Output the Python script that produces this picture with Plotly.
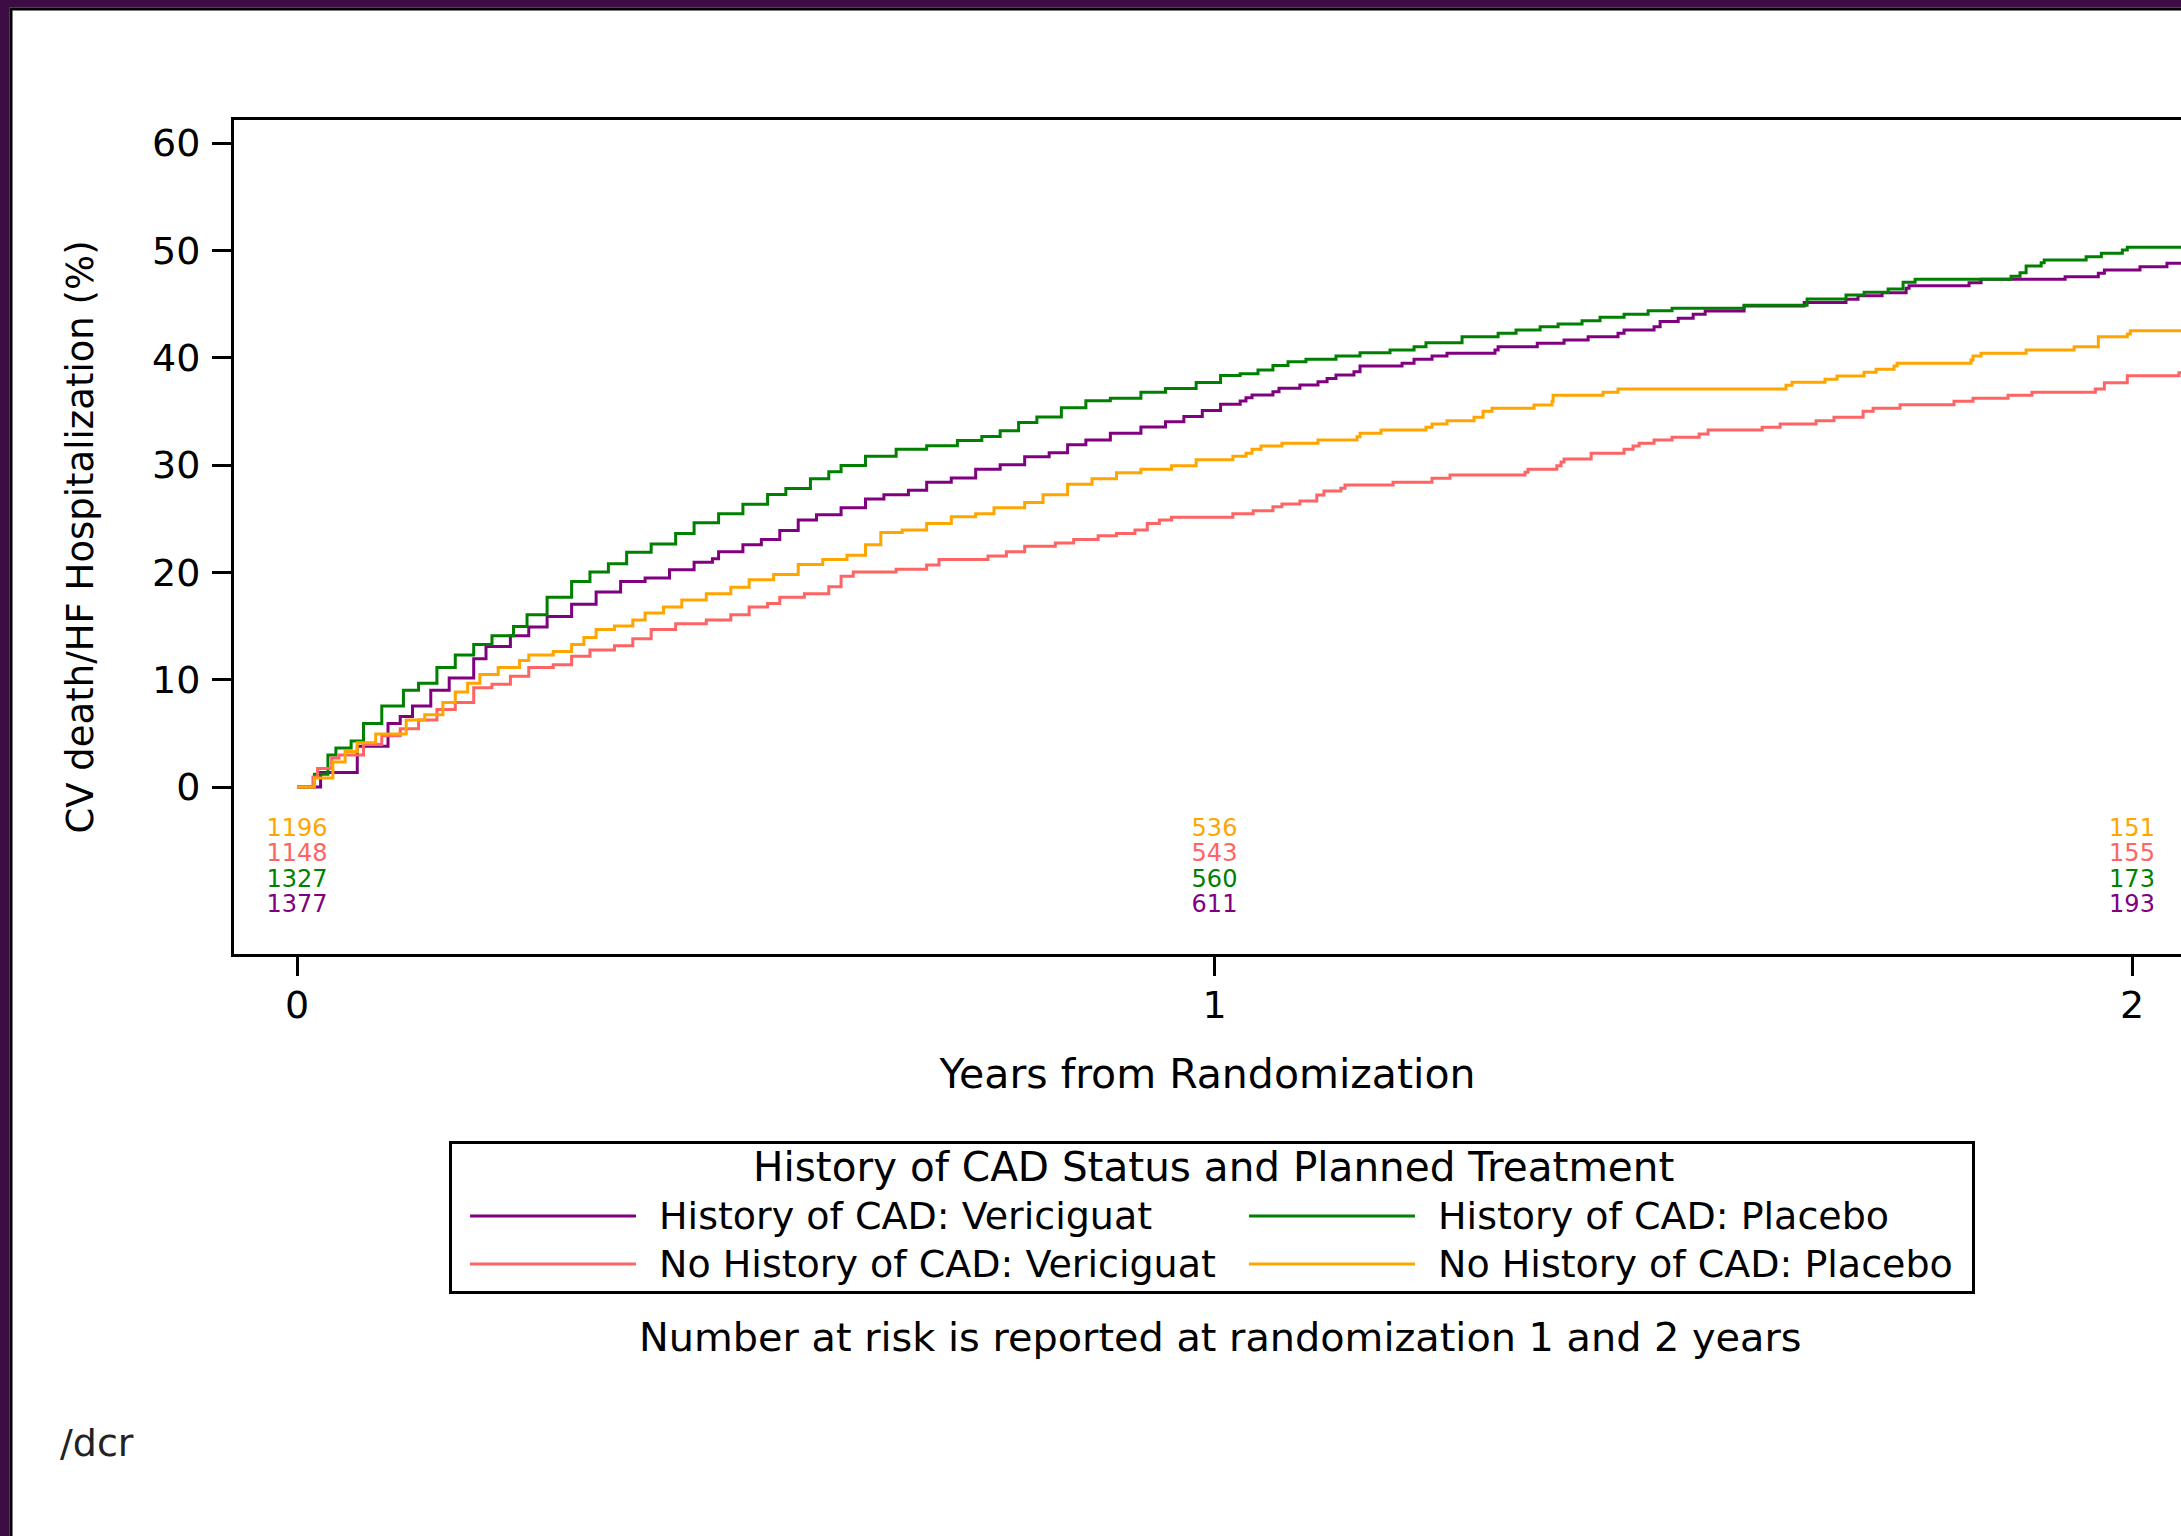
import plotly.graph_objects as go

# ---------------- data ----------------
years_cad_verici = [0, 0.0257, 0.0657, 0.0992, 0.1125, 0.1259, 0.1458, 0.1659, 0.1926, 0.206, 0.2326, 0.2526,
                    0.2726, 0.2993, 0.326, 0.3527, 0.3794, 0.406, 0.4328, 0.4528, 0.4595, 0.486, 0.5061, 0.5262,
                    0.5463, 0.5662, 0.593, 0.6196, 0.6397, 0.6664, 0.6863, 0.7131, 0.7397, 0.7664, 0.7931, 0.8198,
                    0.8399, 0.8598, 0.8865, 0.9198, 0.9466, 0.9666, 0.9867, 1.0066, 1.028, 1.0343, 1.0409, 1.0637,
                    1.0703, 1.0931, 1.1128, 1.1227, 1.1324, 1.152, 1.1586, 1.2044, 1.2175, 1.2371, 1.2534, 1.3057,
                    1.3091, 1.3518, 1.381, 1.4072, 1.4398, 1.4464, 1.4791, 1.4857, 1.5054, 1.5217, 1.5348, 1.5772,
                    1.6427, 1.6883, 1.7014, 1.7276, 1.7538, 1.757, 1.8224, 1.8355, 1.9271, 1.9633, 1.9699, 2.0087,
                    2.0381, 2.07]
pct_cad_verici = [0, 1.34, 3.79, 5.92, 6.57, 7.55, 9.02, 10.16, 11.96, 13.1, 14.09, 14.91,
                  15.89, 17.02, 18.17, 19.15, 19.47, 20.23, 20.94, 21.27, 21.93, 22.58, 23.07, 23.89,
                  24.87, 25.36, 26.01, 26.83, 27.22, 27.64, 28.4, 28.79, 29.61, 30.03, 30.76, 31.15,
                  31.89, 32.32, 32.97, 33.53, 34.02, 34.51, 35.07, 35.66, 35.96, 36.27, 36.52, 36.83,
                  37.15, 37.45, 37.76, 38.07, 38.39, 38.69, 39.23, 39.47, 39.85, 40.16, 40.41, 40.72,
                  41.03, 41.34, 41.65, 41.96, 42.27, 42.58, 42.89, 43.36, 43.67, 44.04, 44.35, 44.82,
                  45.13, 45.44, 45.78, 46.06, 46.46, 46.71, 46.99, 47.3, 47.55, 47.86, 48.17, 48.48,
                  48.79, 48.79]

years_cad_placebo = [0, 0.019, 0.0337, 0.0424, 0.059, 0.0725, 0.0924, 0.116, 0.1325, 0.1525, 0.1725, 0.1926,
                     0.2125, 0.236, 0.2507, 0.2726, 0.2993, 0.3193, 0.3394, 0.3593, 0.386, 0.4127, 0.4328,
                     0.4595, 0.486, 0.5129, 0.5328, 0.5596, 0.5796, 0.593, 0.6196, 0.653, 0.6863, 0.7198,
                     0.7464, 0.7664, 0.7865, 0.8064, 0.8331, 0.8598, 0.8865, 0.9198, 0.9466, 0.98, 1.0066,
                     1.028, 1.0474, 1.0637, 1.0801, 1.0997, 1.1324, 1.1586, 1.1913, 1.2175, 1.2305, 1.2698,
                     1.3091, 1.3287, 1.3549, 1.3745, 1.4006, 1.4202, 1.4464, 1.4726, 1.4987, 1.5772, 1.6459,
                     1.6883, 1.708, 1.7342, 1.7505, 1.7636, 1.8682, 1.878, 1.8846, 1.901, 1.9043, 1.95, 1.9666,
                     1.9895, 1.9949, 2.07]
pct_cad_placebo = [0, 1.18, 2.97, 3.63, 4.28, 5.92, 7.55, 9.02, 9.67, 11.14, 12.29, 13.27,
                   14.09, 14.96, 16.04, 17.68, 19.15, 20.03, 20.79, 21.87, 22.65, 23.63, 24.61,
                   25.45, 26.34, 27.25, 27.81, 28.72, 29.38, 29.96, 30.82, 31.47, 31.8, 32.28,
                   32.65, 33.2, 33.95, 34.47, 35.33, 35.98, 36.21, 36.79, 37.13, 37.68, 38.33,
                   38.5, 38.85, 39.26, 39.63, 39.85, 40.16, 40.47, 40.72, 41.03, 41.4, 41.96,
                   42.27, 42.58, 42.89, 43.14, 43.45, 43.76, 44.04, 44.38, 44.6, 44.88, 45.47,
                   45.84, 46.09, 46.4, 47.02, 47.3, 47.58, 47.92, 48.54, 48.85, 49.1, 49.41, 49.72,
                   50.03, 50.28, 50.28]

years_nocad_verici = [0, 0.0174, 0.0224, 0.0378, 0.0458, 0.0725, 0.0924, 0.1125, 0.1325, 0.1525, 0.1725,
                      0.1926, 0.2125, 0.2326, 0.2526, 0.2793, 0.2993, 0.3193, 0.346, 0.366, 0.386, 0.4127,
                      0.4461, 0.4728, 0.4928, 0.5129, 0.5262, 0.553, 0.5796, 0.593, 0.6063, 0.653, 0.6863,
                      0.6997, 0.7531, 0.7732, 0.7931, 0.8265, 0.8465, 0.8732, 0.8932, 0.9133, 0.9267, 0.9399,
                      0.9532, 1.02, 1.0422, 1.0637, 1.0735, 1.0931, 1.1115, 1.1193, 1.1377, 1.1422, 1.1946,
                      1.2371, 1.2567, 1.3384, 1.3417, 1.3731, 1.3777, 1.381, 1.4105, 1.4464, 1.4562, 1.4628,
                      1.4791, 1.4987, 1.5282, 1.538, 1.5969, 1.6165, 1.6557, 1.6752, 1.7069, 1.7178, 1.7472,
                      1.806, 1.8267, 1.8649, 1.891, 1.96, 1.9699, 1.9949, 2.0512, 2.07]
pct_nocad_verici = [0, 0.93, 1.73, 2.7, 2.97, 3.95, 4.77, 5.42, 6.24, 7.22, 7.87,
                    9.25, 9.58, 10.32, 11.14, 11.4, 12.19, 12.77, 13.17, 13.82, 14.67, 15.22,
                    15.56, 16.04, 16.76, 17.09, 17.68, 18.01, 18.66, 19.64, 20.03, 20.29, 20.68,
                    21.2, 21.53, 21.93, 22.42, 22.74, 23.07, 23.4, 23.63, 23.95, 24.54, 24.87,
                    25.13, 25.45, 25.74, 26.12, 26.37, 26.65, 27.21, 27.58, 27.83, 28.14, 28.39,
                    28.76, 29.07, 29.32, 29.6, 29.94, 30.28, 30.56, 31.09, 31.46, 31.77, 32.02,
                    32.33, 32.58, 32.89, 33.26, 33.51, 33.82, 34.13, 34.44, 35.0, 35.28, 35.62,
                    35.93, 36.21, 36.49, 36.77, 37.08, 37.67, 38.32, 38.6, 38.6]

years_nocad_placebo = [0, 0.019, 0.0391, 0.0524, 0.0657, 0.0858, 0.119, 0.1392, 0.159, 0.1725, 0.186,
                       0.1993, 0.2193, 0.2426, 0.2526, 0.2793, 0.2993, 0.3127, 0.326, 0.346, 0.366, 0.3794,
                       0.3995, 0.4194, 0.4461, 0.4728, 0.4928, 0.5195, 0.5463, 0.573, 0.5995, 0.6196, 0.6363,
                       0.6596, 0.6863, 0.7131, 0.7397, 0.7597, 0.7931, 0.8131, 0.8399, 0.8665, 0.8932, 0.9198,
                       0.9532, 0.98, 1.02, 1.0343, 1.0409, 1.0507, 1.0735, 1.1128, 1.1553, 1.1586, 1.1815,
                       1.2305, 1.2371, 1.2534, 1.2829, 1.2927, 1.3025, 1.3482, 1.3679, 1.369, 1.4235, 1.4398,
                       1.6229, 1.6295, 1.6654, 1.6785, 1.708, 1.7211, 1.7407, 1.744, 1.8245, 1.8267, 1.8355,
                       1.8846, 1.9369, 1.9633, 1.9949, 1.9982, 2.07]
pct_nocad_placebo = [0, 0.85, 2.32, 3.3, 4.12, 4.94, 6.24, 6.74, 7.87, 8.86, 9.67,
                     10.49, 11.14, 11.79, 12.29, 12.62, 13.27, 13.92, 14.67, 15.0, 15.56, 16.21,
                     16.76, 17.42, 18.01, 18.6, 19.31, 19.81, 20.72, 21.2, 21.6, 22.58, 23.72,
                     23.95, 24.54, 25.19, 25.45, 26.01, 26.51, 27.22, 28.2, 28.72, 29.28, 29.61,
                     29.94, 30.49, 30.82, 31.09, 31.46, 31.77, 32.02, 32.33, 32.64, 32.95, 33.26,
                     33.51, 33.82, 34.13, 34.44, 35.0, 35.28, 35.59, 35.93, 36.49, 36.77, 37.08,
                     37.43, 37.71, 37.99, 38.3, 38.64, 38.92, 39.23, 39.48, 39.78, 40.16, 40.41,
                     40.72, 41.03, 41.96, 42.21, 42.51, 42.51]

risk_years = [0, 1, 2]
risk_nocad_placebo = [1196, 536, 151]
risk_nocad_verici = [1148, 543, 155]
risk_cad_placebo = [1327, 560, 173]
risk_cad_verici = [1377, 611, 193]

x_tick_vals = [0, 1, 2]
y_tick_vals = [0, 10, 20, 30, 40, 50, 60]

series_names = ["History of CAD: Vericiguat", "History of CAD: Placebo",
                "No History of CAD: Vericiguat", "No History of CAD: Placebo"]
legend_title = "History of CAD Status and Planned Treatment"
x_title = "Years from Randomization"
y_title = "CV death/HF Hospitalization (%)"
footnote = "Number at risk is reported at randomization 1 and 2 years"
corner_text = "/dcr"

# ---------------- styles / layout geometry ----------------
C_PURPLE = "#800080"
C_GREEN = "#008000"
C_SALMON = "#FF6464"
C_ORANGE = "#FFA500"
C_FRAME = "#3D0C45"
FONT = "DejaVu Sans"

W, H = 2181, 1536
L, T, BOT = 234, 120, 954
X0PX, PX_PER_YEAR = 297, 917.5
Y0PX, PX_PER_PCT = 787, 10.733

x_range = [(L - X0PX) / PX_PER_YEAR, (W - X0PX) / PX_PER_YEAR]
y_range = [(Y0PX - BOT) / PX_PER_PCT, (Y0PX - T) / PX_PER_PCT]


def px_x(p):
    return (p - L) / (W - L)


def px_y(p):
    return (BOT - p) / (BOT - T)


def pct_at_px(p):
    return (Y0PX - p) / PX_PER_PCT


fig = go.Figure()

curves = [
    (years_cad_verici, pct_cad_verici, C_PURPLE, series_names[0]),
    (years_cad_placebo, pct_cad_placebo, C_GREEN, series_names[1]),
    (years_nocad_verici, pct_nocad_verici, C_SALMON, series_names[2]),
    (years_nocad_placebo, pct_nocad_placebo, C_ORANGE, series_names[3]),
]
for xs, ys, col, nm in curves:
    fig.add_trace(go.Scatter(x=xs, y=ys, mode="lines", name=nm,
                             line=dict(color=col, width=3, shape="hv"),
                             showlegend=False, hoverinfo="skip"))

risk_rows = [
    (risk_nocad_placebo, C_ORANGE, 829.5),
    (risk_nocad_verici, C_SALMON, 855),
    (risk_cad_placebo, C_GREEN, 881),
    (risk_cad_verici, C_PURPLE, 906),
]
for vals, col, rowpx in risk_rows:
    fig.add_trace(go.Scatter(x=risk_years, y=[pct_at_px(rowpx)] * len(risk_years),
                             mode="text", text=[str(v) for v in vals],
                             textposition="middle center",
                             textfont=dict(family=FONT, size=24, color=col),
                             showlegend=False, hoverinfo="skip", cliponaxis=False))

shapes = []
# outer slide frame (purple band + black rule on top and left)
shapes.append(dict(type="rect", xref="paper", yref="paper", x0=px_x(0), x1=px_x(9.5),
                   y0=px_y(H), y1=px_y(0), fillcolor=C_FRAME, line=dict(width=0), layer="above"))
shapes.append(dict(type="rect", xref="paper", yref="paper", x0=px_x(0), x1=px_x(W),
                   y0=px_y(7.5), y1=px_y(0), fillcolor=C_FRAME, line=dict(width=0), layer="above"))
shapes.append(dict(type="line", xref="paper", yref="paper", x0=px_x(11), x1=px_x(11),
                   y0=px_y(9), y1=px_y(H), line=dict(color="black", width=3), layer="above"))
shapes.append(dict(type="line", xref="paper", yref="paper", x0=px_x(9.5), x1=px_x(W),
                   y0=px_y(9), y1=px_y(9), line=dict(color="black", width=3), layer="above"))

# legend box
shapes.append(dict(type="rect", xref="paper", yref="paper", x0=px_x(450.5), x1=px_x(1973.5),
                   y0=px_y(1292.5), y1=px_y(1142.5), line=dict(color="black", width=3),
                   fillcolor="rgba(0,0,0,0)"))
legend_slots = [(470, 636, 657, 1216), (1249, 1415, 1436, 1216),
                (470, 636, 657, 1264), (1249, 1415, 1436, 1264)]
legend_colors = [C_PURPLE, C_GREEN, C_SALMON, C_ORANGE]
annotations = []
for (lx0, lx1, tx, ty), col, nm in zip(legend_slots, legend_colors, series_names):
    shapes.append(dict(type="line", xref="paper", yref="paper", x0=px_x(lx0), x1=px_x(lx1),
                       y0=px_y(ty), y1=px_y(ty), line=dict(color=col, width=3)))
    annotations.append(dict(xref="paper", yref="paper", x=px_x(tx), y=px_y(ty), text=nm,
                            showarrow=False, xanchor="left", yanchor="middle",
                            font=dict(family=FONT, size=38, color="black")))

annotations.append(dict(xref="paper", yref="paper", x=px_x(1213), y=px_y(1167), text=legend_title,
                        showarrow=False, xanchor="center", yanchor="middle",
                        font=dict(family=FONT, size=40.5, color="black")))
annotations.append(dict(xref="paper", yref="paper", x=px_x(1220), y=px_y(1337), text=footnote,
                        showarrow=False, xanchor="center", yanchor="middle",
                        font=dict(family=FONT, size=39.8, color="black")))
annotations.append(dict(xref="paper", yref="paper", x=px_x(58), y=px_y(1443), text=corner_text,
                        showarrow=False, xanchor="left", yanchor="middle",
                        font=dict(family=FONT, size=38, color="#222222")))

axis_common = dict(showgrid=False, zeroline=False, showline=True, linecolor="black", linewidth=3,
                   ticks="outside", ticklen=19, tickwidth=3, tickcolor="black",
                   tickfont=dict(family=FONT, size=38, color="black"))

fig.update_layout(
    width=W, height=H, autosize=False, template="none",
    paper_bgcolor="white", plot_bgcolor="white",
    margin=dict(l=L, r=0, t=T, b=H - BOT, pad=0),
    showlegend=False,
    xaxis=dict(range=x_range, tickvals=x_tick_vals, mirror=True, ticklabelstandoff=-4,
               title=dict(text=x_title, font=dict(family=FONT, size=41, color="black"), standoff=34),
               **axis_common),
    yaxis=dict(range=y_range, tickvals=y_tick_vals, mirror=False, ticklabelstandoff=4,
               title=dict(text=y_title, font=dict(family=FONT, size=37, color="black"), standoff=48),
               **axis_common),
    shapes=shapes,
    annotations=annotations,
)

fig.write_html("out.html", config={"displayModeBar": False},
               post_script="document.body.style.margin='0px';document.body.style.overflow='hidden';")
